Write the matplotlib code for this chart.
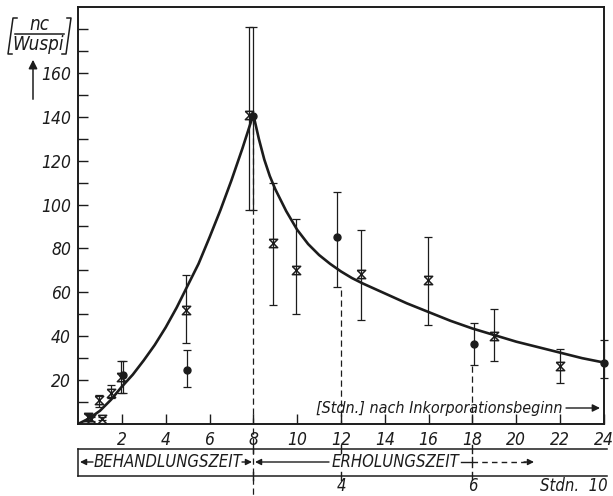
import matplotlib
matplotlib.use("Agg")
import matplotlib.pyplot as plt
import matplotlib.patches as mpatches
import matplotlib.transforms as mtrans
import numpy as np
from matplotlib.path import Path
from matplotlib.lines import Line2D

plt.rcParams['font.family'] = ['DejaVu Sans']
plt.rcParams['font.style'] = 'italic'
plt.rcParams['font.stretch'] = 'condensed'

# ---------------- data ----------------
cross_x = [0.45, 0.6, 0.97, 1.1, 1.5, 1.95, 4.95, 7.8, 8.9, 9.95, 12.9, 15.95, 19.0, 22.0]
cross_y = [3.2, 2.3, 10.9, 2.5, 14.0, 21.5, 52.0, 141.0, 82.5, 70.0, 68.5, 65.5, 40.0, 26.5]
cross_lo = [1.8, 1.4, 7.7, 1.6, 11.8, 14.0, 36.7, 97.5, 54.0, 50.3, 47.3, 45.0, 28.5, 18.8]
cross_hi = [4.6, 3.2, 13.2, 3.4, 17.7, 28.6, 67.7, 181.0, 109.7, 93.5, 88.6, 85.2, 52.3, 34.4]

dot_x = [2.07, 4.97, 8.0, 11.8, 18.07, 24.0]
dot_y = [22.3, 24.5, 140.5, 85.0, 36.5, 28.0]
dot_lo = [14.0, 17.0, 97.5, 62.4, 26.8, 20.8]
dot_hi = [28.6, 33.6, 181.0, 105.6, 46.0, 38.2]

curve_x = [0, 0.5, 1, 1.5, 2, 2.5, 3, 3.5, 4, 4.5, 5, 5.5, 6, 6.5, 7, 7.5, 8,
           8.25, 8.5, 8.75, 9, 9.5, 10, 10.5, 11, 11.5, 12, 12.5, 13, 14, 15, 16,
           17, 18, 19, 20, 21, 22, 23, 24]
curve_y = [0, 2.5, 6, 11, 17, 22.5, 29, 36, 44, 53, 63, 73, 85, 97.5, 111, 125.5, 141,
           130, 120.5, 113, 107, 97, 88.5, 82, 77, 73, 69.5, 66.5, 64, 59.5, 55, 51,
           47, 43.5, 40.5, 37.5, 35, 32.5, 30, 28]

x_ticks = [2, 4, 6, 8, 10, 12, 14, 16, 18, 20, 22, 24]
y_ticks = [20, 40, 60, 80, 100, 120, 140, 160]
y_minor = [10, 30, 50, 70, 90, 110, 130, 150, 170, 180]
day_ticks = [12, 18]
day_labels = ['4', '6']
phase_marks = [8, 12, 18]

# ---------------- figure ----------------
W, H = 613, 496
fig = plt.figure(figsize=(W / 100, H / 100), dpi=100)
ax = fig.add_axes([78 / W, 1 - 424 / H, (604 - 78) / W, (424 - 7) / H])
ink = '#1c1c1c'

ax.set_xlim(0, 24)
ax.set_ylim(0, 190)
for s in ax.spines.values():
    s.set_linewidth(1.4)
    s.set_color(ink)

ax.set_xticks(x_ticks)
ax.set_xticklabels([str(t) for t in x_ticks])
ax.set_yticks(y_ticks)
ax.set_yticklabels([str(t) for t in y_ticks])
ax.set_yticks(y_minor, minor=True)
ax.tick_params(axis='both', which='both', direction='in', length=7, width=1.0,
               colors=ink, labelsize=12.5, pad=5)
ax.tick_params(axis='x', which='minor', bottom=False)

# curve
ax.plot(curve_x, curve_y, color=ink, lw=1.9, solid_capstyle='round',
        solid_joinstyle='round', zorder=4)

# hourglass marker
hg = Path([(-1, 1), (1, 1), (-1, -1), (1, -1), (-1, 1)],
          [Path.MOVETO, Path.LINETO, Path.LINETO, Path.LINETO, Path.LINETO])

cy = np.array(cross_y)
ax.errorbar(cross_x, cross_y, yerr=[cy - np.array(cross_lo), np.array(cross_hi) - cy],
            fmt='none', ecolor=ink, elinewidth=0.9, capsize=3, capthick=0.9,
            clip_on=False, zorder=3)
ax.plot(cross_x, cross_y, linestyle='none', marker=hg, markersize=6,
        markerfacecolor='none', markeredgecolor=ink, markeredgewidth=1.1,
        clip_on=False, zorder=5)

dy = np.array(dot_y)
ax.errorbar(dot_x, dot_y, yerr=[dy - np.array(dot_lo), np.array(dot_hi) - dy],
            fmt='o', color=ink, markersize=5, ecolor=ink, elinewidth=0.9,
            capsize=3, capthick=0.9, clip_on=False, zorder=5)


def fy(py):
    return 1 - py / H


def px2x(px):
    return (px - 78) / ((604 - 78) / 24)


bt = mtrans.blended_transform_factory(ax.transData, fig.transFigure)

# dashed verticals
dash = (0, (5, 3))
fig.add_artist(Line2D([8, 8], [fy(118), fy(495)], transform=bt, color=ink,
                      lw=0.9, linestyle=dash))
fig.add_artist(Line2D([12, 12], [fy(290), fy(424)], transform=bt, color=ink,
                      lw=0.9, linestyle=dash))
fig.add_artist(Line2D([18, 18], [fy(366), fy(424)], transform=bt, color=ink,
                      lw=0.9, linestyle=dash))

# phase strip box
top, bot, mid = 449, 476, 462
fig.add_artist(Line2D([0, 24.15], [fy(top), fy(top)], transform=bt, color=ink, lw=1.1))
fig.add_artist(Line2D([0, 24.15], [fy(bot), fy(bot)], transform=bt, color=ink, lw=1.1))
fig.add_artist(Line2D([0, 0], [fy(top), fy(bot)], transform=bt, color=ink, lw=1.1))
for xm in phase_marks:
    for yy in (top, bot):
        fig.add_artist(Line2D([xm, xm], [fy(yy - 4), fy(yy + 4)], transform=bt,
                              color=ink, lw=1.0))

fkw = dict(fontsize=12, color=ink, style='italic')
fig.text(168 / W, fy(mid), 'BEHANDLUNGSZEIT', ha='center', va='center', **fkw)


def arrow(x0, x1, ls='-'):
    ax.annotate('', xy=(x1, fy(mid)), xytext=(x0, fy(mid)),
                xycoords=bt, textcoords=bt, annotation_clip=False,
                arrowprops=dict(arrowstyle='-|>', color=ink, lw=1.0,
                                linestyle=ls, mutation_scale=9,
                                shrinkA=0, shrinkB=0))


arrow(px2x(93), px2x(80))
arrow(px2x(242), px2x(252))
arrow(px2x(329), px2x(255))
fig.text(395 / W, fy(mid), 'ERHOLUNGSZEIT', ha='center', va='center', **fkw)
fig.add_artist(Line2D([px2x(461), 18], [fy(mid), fy(mid)], transform=bt,
                      color=ink, lw=1.0))
fig.add_artist(Line2D([18, 18], [fy(mid - 5), fy(mid + 5)], transform=bt,
                      color=ink, lw=1.0))
fig.add_artist(Line2D([18, px2x(526)], [fy(mid), fy(mid)], transform=bt,
                      color=ink, lw=1.0, linestyle=(0, (4, 3))))
arrow(px2x(524), px2x(534))

# second scale labels
for xt, lab in zip(day_ticks, day_labels):
    fig.text((xt * (604 - 78) / 24 + 78) / W, fy(486), lab, ha='center',
             va='center', **fkw)
fig.text(608 / W, fy(486), 'Stdn.  10', ha='right', va='center', **fkw)

# x axis title with arrow
fig.text(562 / W, fy(408), '[Stdn.] nach Inkorporationsbeginn',
         ha='right', va='center', fontsize=11.5, color=ink, style='italic')
ax.annotate('', xy=(px2x(600), fy(408)), xytext=(px2x(566), fy(408)),
            xycoords=bt, textcoords=bt, annotation_clip=False,
            arrowprops=dict(arrowstyle='-|>', color=ink, lw=1.0,
                            mutation_scale=11, shrinkA=0, shrinkB=0))

# y axis unit label
fig.text(39 / W, fy(24), 'nc', ha='center', va='center', fontsize=13.5,
         color=ink, style='italic')
fig.text(38 / W, fy(44), 'Wuspi', ha='center', va='center', fontsize=13.5,
         color=ink, style='italic')
fig.add_artist(Line2D([15 / W, 64 / W], [fy(33.5), fy(33.5)], color=ink, lw=1.1))
fig.add_artist(Line2D([17 / W, 13 / W, 8 / W, 12 / W],
                      [fy(18), fy(18), fy(54), fy(54)], color=ink, lw=1.1))
fig.add_artist(Line2D([67 / W, 71 / W, 66 / W, 62 / W],
                      [fy(18), fy(18), fy(54), fy(54)], color=ink, lw=1.1))
fig.add_artist(mpatches.FancyArrowPatch(
    (33 / W, fy(102)), (33 / W, fy(57)), transform=fig.transFigure,
    arrowstyle='-|>', mutation_scale=13, color=ink, lw=1.1))

fig.savefig('out.png', dpi=100, facecolor='white')
